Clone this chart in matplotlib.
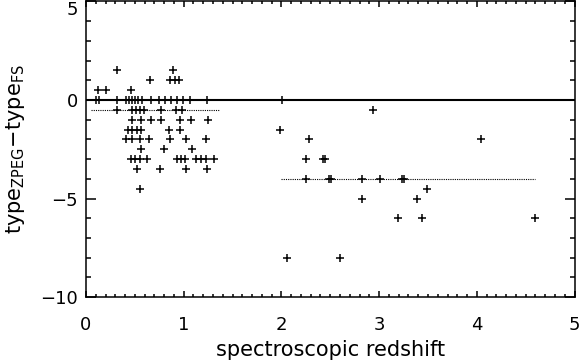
import numpy as np
import matplotlib.pyplot as plt
from matplotlib.ticker import MultipleLocator

# low redshift sample, grouped by type difference
z_low = [0.32, 0.89,
         0.66, 0.86, 0.91, 0.95,
         0.12, 0.20, 0.46,
         0.10, 0.13, 0.32, 0.41, 0.44, 0.47, 0.50, 0.53, 0.57, 0.67, 0.75, 0.81, 0.87, 0.93, 0.99, 1.06, 1.24,
         0.32, 0.47, 0.51, 0.55, 0.59, 0.77, 0.92, 0.98,
         0.47, 0.56, 0.67, 0.77, 0.96, 1.07, 1.25,
         0.43, 0.47, 0.52, 0.56, 0.85, 0.96,
         0.41, 0.47, 0.55, 0.64, 0.86, 1.02, 1.23,
         0.56, 0.80, 1.09,
         0.46, 0.50, 0.55, 0.62, 0.93, 0.97, 1.01, 1.13, 1.18, 1.23, 1.31,
         0.52, 0.76, 1.02, 1.24,
         0.55]
dt_low = [1.5]*2 + [1.0]*4 + [0.5]*3 + [0.0]*17 + [-0.5]*8 + [-1.0]*7 + [-1.5]*6 \
    + [-2.0]*7 + [-2.5]*3 + [-3.0]*11 + [-3.5]*4 + [-4.5]*1

# high redshift sample
z_high = [2.01, 2.94, 1.99, 2.28, 4.04, 2.25, 2.43, 2.45, 2.25, 2.49, 2.51, 2.82,
          3.01, 3.23, 3.25, 3.49, 2.82, 3.39, 3.19, 3.44, 4.60, 2.06, 2.60]
dt_high = [0, -0.5, -1.5, -2, -2, -3, -3, -3, -4, -4, -4, -4,
           -4, -4, -4, -4.5, -5, -5, -6, -6, -6, -8, -8]

# medians of each sample
med_low_x = [0.05, 1.36]
med_low = -0.5
med_high_x = [2.0, 4.6]
med_high = -4.0

plt.rcParams['font.family'] = 'DejaVu Sans'
plt.rcParams['mathtext.fontset'] = 'dejavusans'

fig = plt.figure(figsize=(5.83, 3.64), dpi=100)
ax = fig.add_axes([0.1475, 0.184, 0.838, 0.812])

ax.axhline(0, color='black', lw=1.5)
ax.plot(med_low_x, [med_low]*2, color='black', lw=0.8, ls=(0, (1, 1)))
ax.plot(med_high_x, [med_high]*2, color='black', lw=0.8, ls=(0, (1, 1)))
ax.plot(z_low, dt_low, '+', color='black', ms=6, mew=1.1)
ax.plot(z_high, dt_high, '+', color='black', ms=6, mew=1.1)

ax.set_xlim(0, 5)
ax.set_ylim(-10, 5)
ax.xaxis.set_major_locator(MultipleLocator(1))
ax.xaxis.set_minor_locator(MultipleLocator(0.1))
ax.yaxis.set_major_locator(MultipleLocator(5))
ax.yaxis.set_minor_locator(MultipleLocator(1))

ax.tick_params(axis='both', which='both', direction='in', top=True, right=True,
               width=1.1, labelsize=13)
ax.tick_params(axis='x', which='major', length=4.5, pad=14)
ax.tick_params(axis='x', which='minor', length=2.2)
ax.tick_params(axis='y', which='major', length=7.5, pad=6)
ax.tick_params(axis='y', which='minor', length=3.7)
for s in ax.spines.values():
    s.set_linewidth(1.1)

ax.set_xlabel('spectroscopic redshift', fontsize=15, labelpad=4)
ax.set_ylabel(r'type$_{\mathrm{ZPEG}}$$-$type$_{\mathrm{FS}}$', fontsize=15, labelpad=9)

# keep the top label inside the figure
fig.canvas.draw()
for lab in ax.get_yticklabels():
    if lab.get_position()[1] == 5:
        lab.set_verticalalignment('top')

fig.savefig('out.png', dpi=100)
